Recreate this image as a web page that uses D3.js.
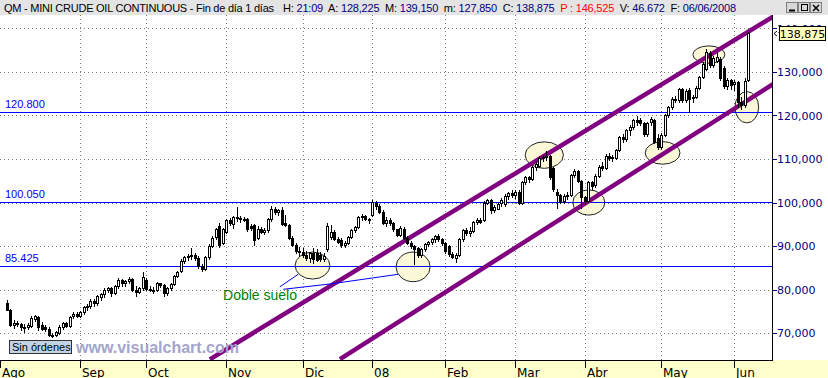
<!DOCTYPE html>
<html lang="es">
<head>
<meta charset="UTF-8">
<title>QM - Mini Crude Oil Continuous</title>
<style>
  body { margin: 0; background: #fff; }
  svg { display: block; }
  .grid line { stroke: #808080; stroke-dasharray: 1,3; shape-rendering: crispEdges; }
  .candle line, .candle rect { shape-rendering: crispEdges; }
  text { white-space: pre; }
</style>
</head>
<body>
<svg id="chart" width="828" height="378"></svg>
<script src="https://d3js.org/d3.v7.min.js"></script>
<script>
// daily candles [open, high, low, close], Aug 3 2007 .. Jun 6 2008
const ago = [
  [76.9,77.6,75.2,75.4],[75.3,75.5,71.5,71.9],[71.8,73.0,71.2,72.4],[72.4,72.8,71.5,72.0],
  [72.0,72.4,70.6,71.4],[71.4,72.0,70.3,71.2],[71.3,72.3,71.0,71.8],[71.6,74.0,71.3,73.4],
  [73.2,74.2,72.8,73.9],[73.6,74.0,70.8,71.3],[71.9,72.5,70.6,71.0],[71.3,71.8,70.5,71.0],
  [71.0,71.3,69.2,69.6],[69.6,70.0,69.0,69.4],[69.5,70.5,69.3,70.2],[69.9,71.8,69.7,71.4],
  [71.4,72.6,71.0,72.3],[72.2,72.5,71.3,71.7],[71.6,74.0,71.4,73.7],[73.8,74.8,73.5,74.3],
  [74.3,74.8,73.7,74.0]
];
const sep = [
  [74.0,75.0,73.6,74.8],[74.8,76.2,74.3,75.9],[75.9,76.6,75.2,76.2],[76.2,77.9,75.8,77.4],
  [77.4,77.8,76.3,76.8],[76.8,78.8,76.5,78.4],[78.3,79.2,77.6,78.9],[78.9,80.3,78.3,80.0],
  [80.0,80.6,79.4,80.3],[80.3,80.6,78.6,79.1],[79.2,81.0,78.9,80.7],[80.7,82.6,80.4,82.2],
  [82.2,82.5,80.8,81.4],[81.4,82.2,80.9,81.9],[81.9,82.8,81.5,82.3],[82.3,82.6,79.6,80.0],
  [80.0,80.8,78.6,79.4],[79.5,80.6,79.1,80.3],[80.3,84.1,80.0,82.9]
];
const oct = [
  [82.2,82.6,79.8,80.2],[80.2,80.8,79.6,80.0],[80.0,80.6,79.2,79.9],[79.9,81.8,79.6,81.4],
  [81.4,81.6,80.5,81.1],[81.1,81.3,78.6,79.1],[79.1,80.5,78.8,80.3],[80.3,81.5,80.0,81.3],
  [81.3,83.3,81.0,83.1],[83.1,84.3,82.8,84.1],[84.2,86.9,84.0,86.6],[86.6,87.8,86.0,87.4],
  [87.4,88.2,86.8,87.8],[87.8,89.6,87.0,88.0],[88.0,88.4,86.8,87.3],[87.3,87.6,85.0,85.4],
  [85.4,85.8,84.3,84.8],[84.8,87.6,84.5,87.4],[87.4,90.4,87.0,90.1],[90.1,92.2,89.8,91.9],
  [92.0,94.2,91.6,94.0],[94.6,95.4,89.8,90.3],[90.8,94.2,90.5,93.9]
];
const nov = [
  [93.3,96.3,93.0,96.0],[96.0,96.4,94.8,95.4],[95.0,97.0,94.2,96.6],[96.6,98.9,95.8,96.4],
  [96.4,96.8,95.6,96.2],[96.3,96.7,95.8,96.1],[96.2,96.5,93.4,93.8],[94.6,95.0,93.6,94.2],
  [94.8,95.0,90.2,91.4],[91.8,94.5,91.5,94.0],[94.0,94.4,92.9,93.3],[93.3,94.2,92.8,93.6],
  [93.6,96.5,93.3,96.1],[96.1,99.1,95.8,98.6],[98.6,98.9,97.4,97.8],[97.8,98.6,97.2,98.2],
  [98.3,99.0,94.8,95.0],[95.2,97.2,94.6,94.9],[94.9,95.1,91.6,91.9],[91.9,92.3,90.0,90.3],
  [90.3,90.6,88.4,88.8],[88.8,89.8,87.8,88.6]
];
const dic = [
  [88.6,89.5,87.5,87.9],[87.9,88.8,86.8,87.3],[87.3,88.7,86.4,88.3],[88.3,89.5,86.0,87.0],
  [88.5,89.2,86.5,86.8],[88.0,88.6,86.5,86.9],[87.0,88.4,86.6,87.8],[89.3,95.2,88.8,94.6],
  [92.0,94.9,91.6,93.3],[93.3,93.6,91.4,91.6],[91.6,92.0,90.6,90.9],[91.4,91.8,89.8,90.2],
  [90.2,91.2,89.8,90.8],[90.8,92.3,90.5,92.0],[92.0,94.0,91.8,93.7],[93.7,94.6,93.3,94.4],
  [94.4,96.9,94.2,96.6],[96.6,97.3,96.0,96.9],[96.9,97.1,95.9,96.1],[96.1,96.5,95.4,95.9]
];
const ene = [
  [97.1,100.6,96.8,100.2],[100.0,100.4,98.6,99.2],[99.2,99.6,97.6,97.9],[97.9,98.2,95.0,95.4],
  [95.4,96.6,94.6,96.0],[96.0,96.4,94.8,95.2],[95.2,95.6,93.4,93.8],[93.8,94.0,92.2,92.6],
  [92.6,94.6,92.2,94.2],[94.0,94.3,91.5,91.9],[91.9,92.3,90.5,90.8],[90.8,91.2,89.6,90.0],
  [90.0,90.3,85.9,89.4],[89.5,89.8,87.5,88.0],[88.0,89.6,87.4,89.2],[89.2,90.6,88.8,90.4],
  [90.4,91.2,90.0,90.9],[90.9,91.8,90.4,91.5],[91.5,92.6,91.0,92.2],[92.2,92.8,91.2,91.6],
  [91.6,91.9,90.2,90.6]
];
const feb = [
  [90.6,91.0,88.4,88.9],[89.9,90.3,87.8,88.1],[88.2,88.7,87.2,87.4],[87.3,88.5,86.4,88.0],
  [88.0,91.9,87.8,91.6],[91.6,94.0,91.2,93.7],[93.7,94.2,92.6,93.0],[93.0,94.4,92.3,93.4],
  [93.4,95.8,93.2,95.5],[95.5,96.4,95.0,96.0],[96.0,96.5,95.2,95.6],[96.0,100.4,95.8,100.0],
  [100.0,100.9,99.6,100.6],[100.6,100.9,97.6,98.2],[98.2,99.4,97.8,98.9],[98.6,100.0,98.4,99.6],
  [100.0,101.0,99.3,100.6],[99.6,102.0,99.3,101.6],[101.6,102.5,100.8,102.2],[102.2,102.8,101.3,101.8]
];
const mar = [
  [101.8,102.8,101.0,102.4],[102.5,102.8,99.6,99.9],[99.9,105.0,99.6,104.7],[104.7,106.1,104.2,105.8],
  [105.8,106.2,104.8,105.4],[105.4,108.4,105.2,108.1],[108.1,109.2,107.5,108.8],[108.5,110.6,108.2,110.2],
  [110.2,110.9,109.6,110.4],[110.4,111.8,109.8,110.6],[110.6,111.0,105.4,105.8],[107.9,108.2,102.6,103.0],
  [102.3,103.0,98.8,101.8],[101.7,102.0,99.9,100.4],[100.4,101.9,100.0,101.5],[101.5,102.4,100.8,101.8],
  [101.8,106.6,101.5,106.3],[106.3,107.6,105.8,107.2],[107.3,107.5,104.6,104.9],[104.9,105.2,98.8,101.2]
];
const abr = [
  [101.2,101.6,99.6,100.4],[100.4,104.9,100.2,104.6],[104.6,105.0,103.2,103.8],[104.0,106.6,103.6,106.2],
  [106.2,108.6,105.8,108.2],[108.4,109.4,107.5,108.0],[108.0,111.2,107.8,110.8],[110.8,111.4,109.8,110.2],
  [110.2,111.0,109.6,110.4],[110.2,112.4,110.0,112.0],[112.0,115.3,111.8,115.0],[115.0,115.8,113.8,114.6],
  [114.6,116.9,114.2,116.6],[116.6,117.8,115.6,117.3],[117.3,119.3,116.8,118.9],[118.9,119.9,117.8,118.4],
  [119.0,119.4,117.8,118.2],[118.2,118.6,115.4,115.7],[115.7,118.6,115.4,118.2],[118.4,119.6,117.8,119.2],
  [119.0,119.2,113.6,114.0],[114.8,115.8,112.2,112.8]
];
const may = [
  [112.8,116.0,112.2,115.6],[115.6,120.4,115.4,120.0],[120.0,122.2,119.6,121.9],[121.9,124.2,121.4,123.8],
  [123.8,124.4,123.0,123.6],[123.6,126.4,123.2,126.0],[126.0,126.4,123.2,123.6],[123.6,126.0,123.2,125.6],
  [125.8,126.4,120.8,123.8],[124.0,124.6,123.2,124.2],[124.2,126.8,124.0,126.4],[126.4,129.0,126.0,128.8],
  [128.8,132.2,128.6,131.9],[130.8,135.2,130.5,134.6],[134.3,134.8,131.2,131.6],[131.6,133.6,131.2,133.2],
  [132.6,134.3,132.2,133.5],[133.0,133.4,128.2,128.6],[131.0,131.4,126.4,126.8],[126.8,128.6,126.2,128.2],
  [128.2,128.4,126.0,127.0]
];
const jun = [
  [127.2,128.2,125.9,127.6],[127.6,127.9,122.0,123.0],[123.2,124.2,121.6,122.4],[122.4,128.6,122.0,128.0],
  [128.225,139.15,127.85,138.875]
];

const months = [ago, sep, oct, nov, dic, ene, feb, mar, abr, may, jun];
const monthLabels = ['Ago', 'Sep', 'Oct', 'Nov', 'Dic', '08', 'Feb', 'Mar', 'Abr', 'May', 'Jun'];
const firstDayOffset = 2; // series starts on the 3rd session of August

const priceTicks = [70, 80, 90, 100, 110, 120, 130, 140];
const levels = [120.8, 100.05, 85.425];

// hand-drawn annotations, in (bar index, price)
const upperChannel = [[58.3, 63.95], [220.1, 142.7]];
const lowerChannel = [[95.7, 64.0], [220.1, 127.2]];
const ellipses = [
  [87.8, 85.5, 5.0, 3.1], [116.7, 85.2, 4.9, 3.4], [154.4, 110.9, 5.5, 3.05],
  [167.2, 100.0, 4.6, 2.9], [188.4, 111.4, 5.0, 2.6], [201.7, 134.0, 4.6, 2.0],
  [212.6, 121.9, 3.4, 3.6]
];
const noteText = 'Doble suelo';
const notePos = [62.1, 77.6];
const pointers = [
  [[78.4, 80.6], [83.7, 83.5]],
  [[79.4, 80.05], [92.8, 81.26], [112.4, 83.49]]
];

const header = { sym: 'QM - MINI CRUDE OIL CONTINUOUS - Fin de día 1 días', time: '21:09', proj: 146.525, vol: 46672, date: '06/06/2008' };

// ---------------------------------------------------------------------
const candles = [];
const monthStarts = [];
months.forEach((m, k) => {
  monthStarts.push(k === 0 ? -firstDayOffset : candles.length);
  m.forEach(d => candles.push({ i: candles.length, o: d[0], h: d[1], l: d[2], c: d[3] }));
});
const last = candles[candles.length - 1];

const es = d3.formatLocale({ decimal: ',', thousands: '.', grouping: [3], currency: ['', ''] });
const f3 = es.format(',.3f');

const W = 828, H = 378;
const plot = { left: 0, right: 772, top: 15, bottom: 360 };

const svg = d3.select('#chart');

const x = d3.scaleLinear().domain([-firstDayOffset, candles.length]).range([0, 751.7]);
const y = d3.scaleLinear().domain([70, 130]).range([333, 72]);

svg.append('rect').attr('width', W).attr('height', H).attr('fill', '#fff');

svg.append('defs').append('clipPath').attr('id', 'clip')
  .append('rect')
  .attr('x', plot.left).attr('y', plot.top)
  .attr('width', plot.right - plot.left).attr('height', plot.bottom - plot.top);

// grid
const grid = svg.append('g').attr('class', 'grid');
grid.selectAll('.h').data(priceTicks).enter().append('line')
  .attr('x1', plot.left).attr('x2', plot.right)
  .attr('y1', d => Math.round(y(d)) + 0.5).attr('y2', d => Math.round(y(d)) + 0.5);
grid.selectAll('.v').data(monthStarts.slice(1)).enter().append('line')
  .attr('y1', plot.top).attr('y2', plot.bottom)
  .attr('x1', d => Math.round(x(d)) + 0.5).attr('x2', d => Math.round(x(d)) + 0.5);

const g = svg.append('g').attr('clip-path', 'url(#clip)');

// ellipses behind everything
g.selectAll('ellipse').data(ellipses).enter().append('ellipse')
  .attr('cx', d => x(d[0])).attr('cy', d => y(d[1]))
  .attr('rx', d => x(d[2]) - x(0)).attr('ry', d => y(0) - y(d[3]))
  .attr('fill', '#fbf8d8').attr('stroke', '#222').attr('stroke-width', 1);

// horizontal levels
g.selectAll('.lvl').data(levels).enter().append('line')
  .attr('x1', plot.left).attr('x2', plot.right)
  .attr('y1', d => Math.round(y(d)) + 0.5).attr('y2', d => Math.round(y(d)) + 0.5)
  .attr('stroke', '#0000ff').attr('stroke-width', 1).style('shape-rendering', 'crispEdges');
g.selectAll('.lvlt').data(levels).enter().append('text')
  .attr('x', 5).attr('y', d => Math.round(y(d)) - 4)
  .attr('font-family', 'Liberation Sans, Arial, sans-serif').attr('font-size', 11)
  .attr('fill', '#0000ff')
  .text(d => d3.format('.3f')(d));

// channel lines
const line = d3.line().x(d => x(d[0])).y(d => y(d[1]));
g.selectAll('.chan').data([upperChannel, lowerChannel]).enter().append('path')
  .attr('d', line).attr('fill', 'none')
  .attr('stroke', '#800080').attr('stroke-width', 4.5);

// pointer lines and note
g.selectAll('.ptr').data(pointers).enter().append('path')
  .attr('d', line).attr('fill', 'none').attr('stroke', '#0000ff').attr('stroke-width', 1);
g.append('text')
  .attr('x', x(notePos[0])).attr('y', y(notePos[1]))
  .attr('font-family', 'Liberation Sans, Arial, sans-serif').attr('font-size', 14)
  .attr('fill', '#008000').text(noteText);

// candles
const cg = g.append('g').attr('class', 'candle');
const cand = cg.selectAll('g').data(candles).enter().append('g');
cand.append('line')
  .attr('x1', d => Math.round(x(d.i)) + 0.5).attr('x2', d => Math.round(x(d.i)) + 0.5)
  .attr('y1', d => Math.round(y(d.h))).attr('y2', d => Math.round(y(d.l)) + 1)
  .attr('stroke', '#000');
cand.append('rect')
  .attr('x', d => Math.round(x(d.i)) - 0.5)
  .attr('width', 2)
  .attr('y', d => Math.round(y(Math.max(d.o, d.c))) + 0.5)
  .attr('height', d => Math.max(1, Math.round(y(Math.min(d.o, d.c))) - Math.round(y(Math.max(d.o, d.c)))))
  .attr('fill', d => d.c >= d.o ? '#fff' : '#000')
  .attr('stroke', '#000').attr('stroke-width', 1);

// status box and watermark
svg.append('rect').attr('x', 9.5).attr('y', 340.5).attr('width', 62).attr('height', 13)
  .attr('fill', '#c3d3e6').attr('stroke', '#333');
svg.append('text').attr('x', 12).attr('y', 351)
  .attr('font-family', 'Liberation Sans, Arial, sans-serif').attr('font-size', 11)
  .attr('fill', '#000').text('Sin órdenes');
svg.append('text').attr('x', 76).attr('y', 353)
  .attr('font-family', 'Liberation Sans, Arial, sans-serif').attr('font-size', 16)
  .attr('font-weight', 'bold').attr('fill', '#a4a4cc').text('www.visualchart.com');

// right axis panel
svg.append('rect').attr('x', plot.right).attr('y', plot.top).attr('width', W - plot.right).attr('height', plot.bottom - plot.top)
  .attr('fill', '#fff');
svg.append('line').attr('x1', plot.right + 0.5).attr('x2', plot.right + 0.5)
  .attr('y1', plot.top).attr('y2', plot.bottom).attr('stroke', '#000').style('shape-rendering', 'crispEdges');
const yAxis = svg.append('g');
yAxis.selectAll('line').data(priceTicks).enter().append('line')
  .attr('x1', plot.right).attr('x2', plot.right + 5)
  .attr('y1', d => Math.round(y(d)) + 0.5).attr('y2', d => Math.round(y(d)) + 0.5)
  .attr('stroke', '#000080').style('shape-rendering', 'crispEdges');
yAxis.selectAll('text').data(priceTicks).enter().append('text')
  .attr('x', plot.right + 5).attr('y', d => y(d) + 4)
  .attr('font-family', 'DejaVu Sans, sans-serif').attr('font-size', 11)
  .attr('fill', '#000080').text(d => f3(d));

// last price flag (covers the top tick label, as in the terminal)
const ly = Math.round(y(last.c));
svg.append('path').attr('d', `M${plot.right + 5},${ly - 2} L${plot.right + 2},${ly + 0.5} L${plot.right + 5},${ly + 3}`)
  .attr('fill', 'none').attr('stroke', '#000');
svg.append('rect').attr('x', 779.5).attr('y', ly - 6.5).attr('width', 46).attr('height', 14)
  .attr('fill', '#ffffc0').attr('stroke', '#000');
svg.append('text').attr('x', 802.5).attr('y', ly + 4.5).attr('text-anchor', 'middle')
  .attr('font-family', 'DejaVu Sans, sans-serif').attr('font-size', 11)
  .attr('fill', '#000').text(f3(last.c));

// bottom axis band
svg.append('rect').attr('x', 0).attr('y', plot.bottom).attr('width', W).attr('height', H - plot.bottom)
  .attr('fill', '#ffffcc');
svg.append('line').attr('x1', 0).attr('x2', plot.right + 1)
  .attr('y1', plot.bottom + 0.5).attr('y2', plot.bottom + 0.5).attr('stroke', '#000').style('shape-rendering', 'crispEdges');
const xAxis = svg.append('g');
xAxis.selectAll('line').data(monthStarts).enter().append('line')
  .attr('x1', d => Math.round(x(d)) + 0.5).attr('x2', d => Math.round(x(d)) + 0.5)
  .attr('y1', plot.bottom).attr('y2', plot.bottom + 8)
  .attr('stroke', '#000').style('shape-rendering', 'crispEdges');
xAxis.selectAll('text').data(monthStarts).enter().append('text')
  .attr('x', d => Math.round(x(d)) + 2).attr('y', 377)
  .attr('font-family', 'DejaVu Sans, sans-serif').attr('font-size', 12)
  .attr('fill', '#000').text((d, k) => monthLabels[k]);

// title bar
svg.append('rect').attr('width', W).attr('height', plot.top).attr('fill', '#e4e4e4');
const tfont = 'Liberation Sans, Arial, sans-serif';
svg.append('text').attr('x', 4).attr('y', 12)
  .attr('font-family', tfont).attr('font-size', 11)
  .attr('textLength', 270).attr('lengthAdjust', 'spacing')
  .attr('fill', '#000').text(header.sym);
const parts = [
  ['H: ', '#000'], [header.time, '#000080'],
  ['  A: ', '#000'], [f3(last.o), '#000080'],
  ['  M: ', '#000'], [f3(last.h), '#000080'],
  ['  m: ', '#000'], [f3(last.l), '#000080'],
  ['  C: ', '#000'], [f3(last.c), '#000080'],
  ['  P : ' + f3(header.proj), '#ff0000'],
  ['  V: ', '#000'], [es.format(',d')(header.vol), '#000080'],
  ['  F: ', '#000'], [header.date, '#000080']
];
const title = svg.append('text').attr('x', 283).attr('y', 12)
  .attr('font-family', tfont).attr('font-size', 11)
  .attr('textLength', 453).attr('lengthAdjust', 'spacing');
parts.forEach(p => title.append('tspan').attr('fill', p[1]).text(p[0]));

// window buttons
const btn = svg.append('g');
[0, 1, 2].forEach(k => {
  const bx = 786 + k * 12;
  btn.append('rect').attr('x', bx + 0.5).attr('y', 2.5).attr('width', 11).attr('height', 10)
    .attr('fill', '#d8d8d8').attr('stroke', '#808080');
});
btn.append('line').attr('x1', 789).attr('x2', 795).attr('y1', 10.5).attr('y2', 10.5).attr('stroke', '#000').attr('stroke-width', 2);
btn.append('rect').attr('x', 801.5).attr('y', 4.5).attr('width', 6).attr('height', 6).attr('fill', 'none').attr('stroke', '#000');
btn.append('path').attr('d', 'M813,5 L819,11 M819,5 L813,11').attr('stroke', '#000').attr('stroke-width', 1.5);
</script>
</body>
</html>
